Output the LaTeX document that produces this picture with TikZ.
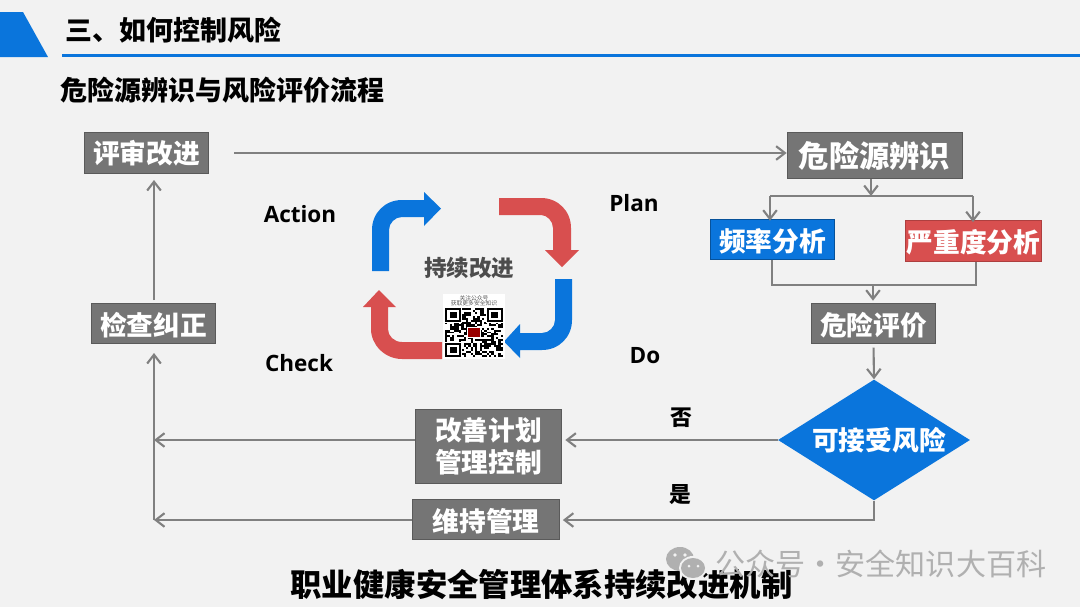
\documentclass[tikz,border=0pt]{standalone}
\usepackage{fontspec}
\usepackage{tikz}
\usetikzlibrary{arrows.meta,shapes.geometric}
\setmainfont{Noto Sans CJK SC}
\newfontfamily\latinfont{Open Sans}
\definecolor{pagebg}{HTML}{F2F2F2}
\definecolor{boxgray}{HTML}{757575}
\definecolor{boxedge}{HTML}{5A5A5A}
\definecolor{linegray}{HTML}{808080}
\definecolor{cycleblue}{HTML}{0A75DC}
\definecolor{cyclered}{HTML}{D84F4F}
\definecolor{markgray}{HTML}{B0B0B0}

\begin{document}
\begin{tikzpicture}[
    x=0.025cm, y=-0.025cm,
    flow/.style={rectangle, draw=boxedge, fill=boxgray, text=white, line width=0.6pt,
                inner sep=0pt, minimum height=1.02cm, minimum width=3.1cm,
                font=\bfseries\fontsize{19}{23}\selectfont, align=center},
    low/.style={text height=19.5pt, text depth=2.5pt},
    arr/.style={-{Straight Barb[length=2.2mm,width=3.4mm]}, draw=linegray, line width=1.5pt},
    plainline/.style={draw=linegray, line width=1.5pt},
    heading/.style={anchor=west, inner sep=0pt, font=\bfseries\fontsize{19.2}{23}\selectfont},
    phase/.style={inner sep=0pt, font=\latinfont\bfseries\fontsize{16}{19}\selectfont},
    answer/.style={inner sep=0pt, font=\bfseries\fontsize{15.5}{18}\selectfont},
    qrtext/.style={inner sep=0pt, text=black!65, font=\fontsize{4.1}{5}\selectfont},
]

\useasboundingbox (0,0) rectangle (1080,607);
\fill[pagebg] (0,0) rectangle (1080,607);

% --- Header ---
\fill[cycleblue] (0,12) -- (23,12) -- (48,57) -- (0,57) -- cycle;
\draw[cycleblue, line width=1.5pt] (62,55.5) -- (1080,55.5);
\node[heading] (title) at (65,30) {三、如何控制风险};
\node[heading] (subtitle) at (60,90) {危险源辨识与风险评价流程};

% --- Flow boxes ---
\node[flow] (review) at (146.5,153) {评审改进};
\node[flow, minimum width=4.37cm, minimum height=1.17cm,
      font=\bfseries\fontsize{21.5}{25}\selectfont] (hazard) at (874.5,155.5) {危险源辨识};
\node[flow, low, fill=cycleblue, draw=cycleblue!70!black] (freq) at (772.5,239.5) {频率分析};
\node[flow, low, fill=cyclered, draw=cyclered!80!black, minimum width=3.38cm] (severity) at (973.5,241) {严重度分析};
\node[flow, low] (evaluate) at (873.5,323.5) {危险评价};
\node[flow, low] (checkfix) at (153.5,323.5) {检查纠正};
\node[flow, minimum width=3.66cm, minimum height=1.85cm] (improve) at (488.5,446) {改善计划\\管理控制};
\node[flow, low, minimum width=3.66cm] (maintain) at (486,519.5) {维持管理};
\node[diamond, fill=cycleblue, text=white, inner sep=0pt, aspect=1.59,
      minimum width=4.8cm, minimum height=3.02cm,
      font=\bfseries\fontsize{19}{23}\selectfont] (accept) at (874,440) {\hspace*{0.25cm}可接受风险};

% --- Connector points ---
\coordinate (reviewout) at (234,153);
\coordinate (splitmid) at (871,196);
\coordinate (splitleft) at (770,196);
\coordinate (splitright) at (973,196);
\coordinate (mergeleft) at (772,285);
\coordinate (mergeright) at (976,285);
\coordinate (mergemid) at (873,285);
\coordinate (returnlow) at (154,520);
\coordinate (returnhigh) at (154,440);
\coordinate (fixtop) at (154,300);
\coordinate (reviewin) at (154,180);
\coordinate (fixin) at (154,353);

% --- Connectors ---
\draw[arr] (reviewout) -- (hazard.west |- reviewout);
\draw[arr] (hazard.south -| splitmid) -- (splitmid);
\draw[plainline] (splitleft) -- (splitright);
\draw[arr] (splitleft) -- ([yshift=-0.05cm]freq.north -| splitleft);
\draw[arr] (splitright) -- ([yshift=-0.05cm]severity.north -| splitright);
\draw[plainline] (freq.south -| mergeleft) -- (mergeleft) -- (mergeright) -- (severity.south -| mergeright);
\draw[arr] (mergemid) -- ([yshift=0.05cm]evaluate.north -| mergemid);
\draw[arr, shorten <=0.08cm] (evaluate.south) -- (accept.north);
\draw[arr, shorten >=0.08cm] (accept.west) -- (improve.east |- accept.west);
\draw[arr, shorten >=0.08cm] (accept.south) |- (maintain.east |- returnlow);
\draw[arr] (improve.west |- returnhigh) -- (returnhigh);
\draw[arr] (maintain.west |- returnlow) -- (returnlow);
\draw[arr] (returnlow) -- (fixin);
\draw[arr] (fixtop) -- (reviewin);

% --- Answer and phase labels ---
\node[answer] (no) at (681,418) {否};
\node[answer] (yes) at (680,495) {是};
\node[phase] (action) at (300,214) {Action};
\node[phase] (plan) at (634,203) {Plan};
\node[phase] (do) at (645,356) {Do};
\node[phase] (check) at (299,363) {Check};

% --- Cycle arrows ---
\fill[cycleblue] (372,271) -- (372,230) .. controls (372,213) and (385,200) .. (402,200) -- (424,200)
  -- (424,192) -- (441,208.5) -- (424,226) -- (424,217) -- (402,217)
  .. controls (395,217) and (389,223) .. (389,230) -- (389,271) -- cycle;
\fill[cyclered] (499,198) -- (541,198) .. controls (558,198) and (571,211) .. (571,228) -- (571,250)
  -- (579,250) -- (562,267) -- (545,250) -- (553,250) -- (553,228)
  .. controls (553,221) and (547,215) .. (541,215) -- (499,215) -- cycle;
\fill[cycleblue] (572,279) -- (572,320) .. controls (572,337) and (559,350) .. (542,350) -- (520,350)
  -- (520,358) -- (504,341.5) -- (520,324) -- (520,333) -- (542,333)
  .. controls (549,333) and (555,327) .. (555,320) -- (555,279) -- cycle;
\fill[cyclered] (442,359) -- (402,359) .. controls (385,359) and (371,345) .. (371,329) -- (371,307)
  -- (363,307) -- (379,290) -- (396,307) -- (388,307) -- (388,329)
  .. controls (388,336) and (394,342) .. (402,342) -- (442,342) -- cycle;
\node[inner sep=0pt, text=black!70, font=\bfseries\fontsize{16}{19}\selectfont] (centre) at (469,268) {持续改进};

% --- QR block ---
\fill[white] (443,294) rectangle (505,359);
\node[qrtext] (qrline) at (474,298) {关注公众号};
\node[qrtext] (qrlinetwo) at (474,303) {获取更多安全知识};
\begin{scope}[shift={(445,308)}, x=0.058cm, y=-0.049cm]
  \pgfmathsetseed{42}
  \foreach \r in {0,...,24} {
    \foreach \c in {0,...,24} {
      \pgfmathparse{rnd>0.5 ? 1 : 0}
      \ifnum\pgfmathresult=1
        \fill[black] (\c,\r) rectangle ++(1,1);
      \fi
    }
  }
  \foreach \cx/\cy in {0/0,18/0,0/18} {
    \fill[white] (\cx-0.5,\cy-0.5) rectangle ++(8,8);
    \fill[black] (\cx,\cy) rectangle ++(7,7);
    \fill[white] (\cx+1,\cy+1) rectangle ++(5,5);
    \fill[black] (\cx+2,\cy+2) rectangle ++(3,3);
  }
  \fill[white] (9.5,9.5) rectangle ++(6,6);
  \fill[red!60!black] (10,10) rectangle ++(5,5);
\end{scope}

% --- Bottom line and mark ---
\node[inner sep=0pt, font=\bfseries\fontsize{22.3}{26}\selectfont] (bottomline) at (541.5,585) {职业健康安全管理体系持续改进机制};
\fill[markgray] (680,559) ellipse [x radius=14, y radius=12];
\fill[pagebg] (693,568) ellipse [x radius=14, y radius=12];
\fill[markgray] (693,568) ellipse [x radius=12, y radius=10];
\fill[pagebg] (675,555) circle (1.8) (685,555) circle (1.8) (689,566) circle (1.5) (698,566) circle (1.5);
\node[anchor=west, inner sep=0pt, text=markgray, font=\fontsize{21.4}{25}\selectfont] (mark) at (715,564)
  {公众号·安全知识大百科};

\end{tikzpicture}
\end{document}
